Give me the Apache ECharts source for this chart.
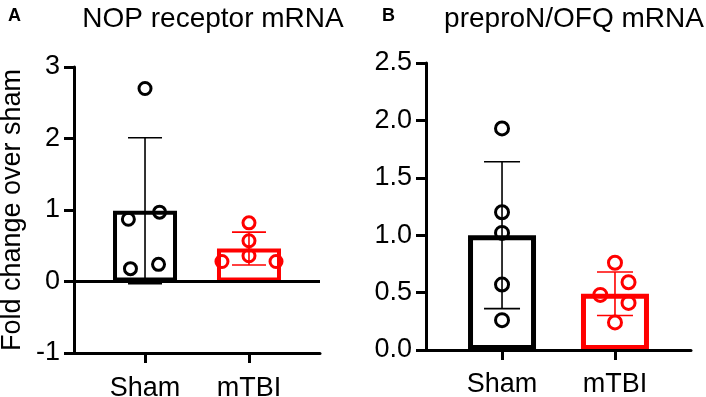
<!DOCTYPE html>
<html>
<head>
<meta charset="utf-8">
<script src="https://cdn.jsdelivr.net/npm/echarts@6.0.0/dist/echarts.min.js"></script>
<style>
  html, body { margin: 0; padding: 0; background: #fff; }
  #chart { width: 706px; height: 397px; }
</style>
</head>
<body>
<div id="chart"></div>
<script>
// groups sit at x = 1 and x = 2 on each panel
var groups = ['Sham', 'mTBI'];

// panel A - NOP receptor mRNA
var nopTicks = [-1, 0, 1, 2, 3];
var nopMean = [0.99, 0.46];
var nopSd = [1.02, 0.23];
var nopSham = [2.70, 0.87, 0.97, 0.18, 0.24];
var nopTbi = [0.82, 0.57, 0.36, 0.28, 0.28];

// panel B - preproN/OFQ mRNA
var ppTicks = [0, 0.5, 1, 1.5, 2, 2.5];
var ppMean = [1.0, 0.49];
var ppSd = [0.64, 0.19];
var ppSham = [1.93, 1.20, 1.02, 0.57, 0.26];
var ppTbi = [0.76, 0.59, 0.48, 0.41, 0.24];

// sideways spread of the dots (fraction of group spacing)
var nopShamJit = [0, -0.16, 0.14, -0.14, 0.13];
var nopTbiJit = [0, 0, 0, -0.26, 0.26];
var ppShamJit = [0, 0, 0, 0, 0];
var ppTbiJit = [0, 0.12, -0.13, 0.12, 0];

var FONT = "'Liberation Sans', Arial, sans-serif";
var colors = ['#000000', '#ff0000'];

function pts(vals, jit, g) {
  return vals.map(function (v, i) { return [g + jit[i], v]; });
}

function xAxisFor(gi, min, max, gap) {
  return {
    gridIndex: gi, type: 'value', min: min, max: max, position: 'bottom', z: 5,
    axisLine: { onZero: false, lineStyle: { color: '#000', width: 3 } },
    axisTick: { customValues: [1, 2], length: 10, lineStyle: { color: '#000', width: 3 } },
    axisLabel: {
      customValues: [1, 2], margin: gap, color: '#000', fontSize: 27, fontFamily: FONT,
      formatter: function (v) { return groups[Math.round(v) - 1]; }
    },
    splitLine: { show: false }
  };
}

function yAxisFor(gi, ticks, digits, name) {
  return {
    gridIndex: gi, type: 'value', z: 5,
    min: ticks[0], max: ticks[ticks.length - 1], interval: ticks[1] - ticks[0],
    name: name, nameLocation: 'middle', nameGap: 48, nameRotate: 90,
    nameTextStyle: { color: '#000', fontSize: 27, fontFamily: FONT },
    axisLine: { show: true, lineStyle: { color: '#000', width: 3 } },
    axisTick: { show: true, inside: false, length: 10, lineStyle: { color: '#000', width: 3 } },
    axisLabel: {
      margin: 14, color: '#000', fontSize: 27, fontFamily: FONT,
      formatter: function (v) { return v.toFixed(digits); }
    },
    splitLine: { show: false }
  };
}

function barSeries(gi, means, width, border) {
  return {
    type: 'bar', xAxisIndex: gi, yAxisIndex: gi, barWidth: width, z: 2,
    data: means.map(function (m, i) {
      return { value: [i + 1, m], itemStyle: { color: '#fff', borderColor: colors[i], borderWidth: border } };
    })
  };
}

function errSeries(gi, means, sds, cap, zeroLine) {
  var s = {
    type: 'custom', xAxisIndex: gi, yAxisIndex: gi, z: 3,
    data: means.map(function (m, i) { return [i + 1, m, sds[i]]; }),
    renderItem: function (params, api) {
      var x = api.value(0), m = api.value(1), sd = api.value(2);
      var top = api.coord([x, m + sd]);
      var bot = api.coord([x, m - sd]);
      var st = { stroke: colors[params.dataIndex], lineWidth: 1.6 };
      return {
        type: 'group',
        children: [
          { type: 'line', shape: { x1: top[0], y1: top[1], x2: bot[0], y2: bot[1] }, style: st },
          { type: 'line', shape: { x1: top[0] - cap, y1: top[1], x2: top[0] + cap, y2: top[1] }, style: st },
          { type: 'line', shape: { x1: bot[0] - cap, y1: bot[1], x2: bot[0] + cap, y2: bot[1] }, style: st }
        ]
      };
    }
  };
  if (zeroLine) {
    // baseline at y = 0 across the whole panel
    s.markLine = {
      silent: true, symbol: 'none', label: { show: false },
      lineStyle: { color: '#000', width: 3, type: 'solid' },
      data: [{ yAxis: 0 }]
    };
  }
  return s;
}

function dotSeries(gi, vals, jit, g, size) {
  return {
    type: 'scatter', xAxisIndex: gi, yAxisIndex: gi, z: 4,
    symbol: 'circle', symbolSize: size,
    itemStyle: { color: 'rgba(0,0,0,0)', borderColor: colors[g - 1], borderWidth: 3, opacity: 1 },
    data: pts(vals, jit, g)
  };
}

var chart = echarts.init(document.getElementById('chart'));
chart.setOption({
  animation: false,
  backgroundColor: '#fff',
  title: [
    { text: 'A', left: 3, top: 2, textStyle: { fontSize: 18, fontWeight: 'bold', color: '#000', fontFamily: FONT } },
    { text: 'NOP receptor mRNA', left: 208, top: 0, textAlign: 'center',
      textStyle: { fontSize: 28, fontWeight: 'normal', color: '#000', fontFamily: FONT } },
    { text: 'B', left: 377, top: 2, textStyle: { fontSize: 18, fontWeight: 'bold', color: '#000', fontFamily: FONT } },
    { text: 'preproN/OFQ mRNA', left: 569, top: 0, textAlign: 'center',
      textStyle: { fontSize: 28, fontWeight: 'normal', color: '#000', fontFamily: FONT } }
  ],
  grid: [
    { left: 74, top: 67, width: 246, height: 286, outerBoundsMode: 'none', containLabel: false },
    { left: 426, top: 63, width: 265, height: 287, outerBoundsMode: 'none', containLabel: false }
  ],
  xAxis: [xAxisFor(0, 0.317, 2.683, 22), xAxisFor(1, 0.327, 2.673, 21)],
  yAxis: [yAxisFor(0, nopTicks, 0, 'Fold change over sham'), yAxisFor(1, ppTicks, 1, '')],
  series: [
    barSeries(0, nopMean, 64, 4),
    errSeries(0, nopMean, nopSd, 17, true),
    dotSeries(0, nopSham, nopShamJit, 1, 12),
    dotSeries(0, nopTbi, nopTbiJit, 2, 12),
    barSeries(1, ppMean, 68, 5),
    errSeries(1, ppMean, ppSd, 18, false),
    dotSeries(1, ppSham, ppShamJit, 1, 13),
    dotSeries(1, ppTbi, ppTbiJit, 2, 13)
  ]
});
</script>
</body>
</html>
